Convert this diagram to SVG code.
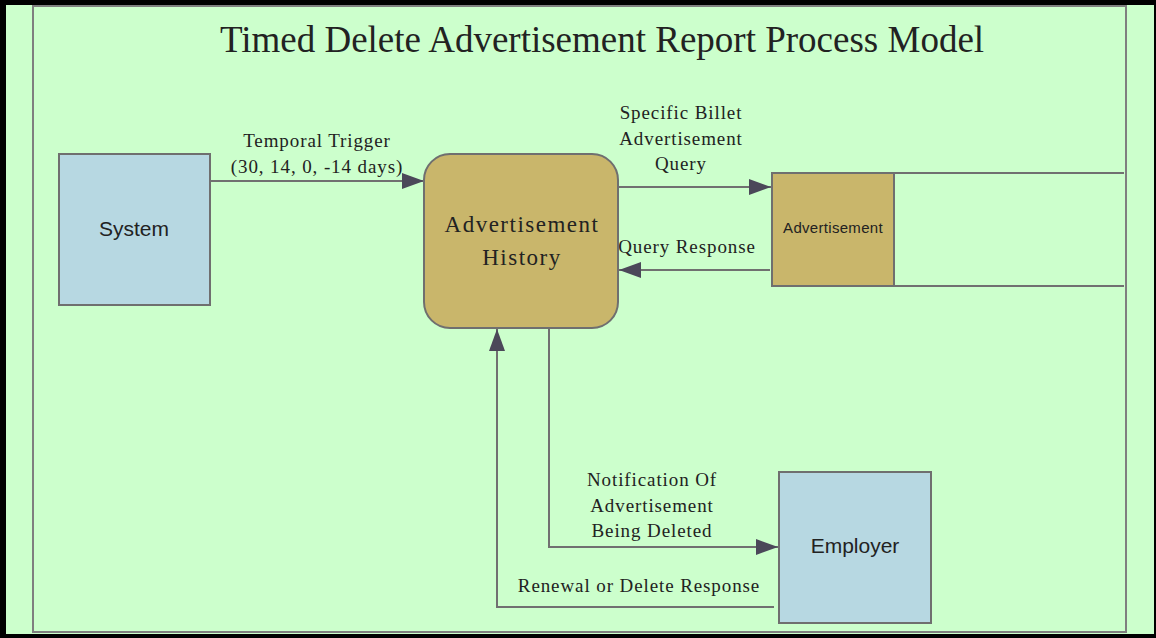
<svg xmlns="http://www.w3.org/2000/svg" width="1156" height="638" viewBox="0 0 1156 638">
<style>
.serif{font-family:"Liberation Serif","Times New Roman",serif;fill:#222;}
.sans{font-family:"Liberation Sans",Arial,sans-serif;fill:#222;}
.lbl{font-size:19px;letter-spacing:0.9px;text-anchor:middle;}
.conn{fill:none;stroke:#707070;stroke-width:2;}
.ent{fill:#B7D8E2;stroke:#6f6f6f;stroke-width:2;}
.tan{fill:#C9B66B;stroke:#6f6f6f;stroke-width:2;}
</style>
<defs>
<marker id="ah" markerUnits="userSpaceOnUse" markerWidth="22" markerHeight="16" refX="22" refY="8" orient="auto">
<path d="M0,0 L22,8 L0,16 z" fill="#4b4859"/>
</marker>
</defs>
<rect x="0" y="0" width="1156" height="638" fill="#000"/>
<rect x="6" y="5" width="1148" height="629" fill="#CCFFCC"/>
<rect x="33" y="6" width="1093" height="626" fill="none" stroke="#7f7f7f" stroke-width="2"/>
<text class="serif" x="602" y="52" font-size="37" text-anchor="middle">Timed Delete Advertisement Report Process Model</text>

<g id="connectors">
<path class="conn" d="M211,181 H424" marker-end="url(#ah)"/>
<path class="conn" d="M618,187 H771" marker-end="url(#ah)"/>
<path class="conn" d="M770,270 H619" marker-end="url(#ah)"/>
<path class="conn" d="M549,328 V547 H778" marker-end="url(#ah)"/>
<path class="conn" d="M774,607 H497 V329" marker-end="url(#ah)"/>
<text class="serif lbl" x="317" y="147">Temporal Trigger</text>
<text class="serif lbl" x="317" y="173">(30, 14, 0, -14 days)</text>
<text class="serif lbl" x="681" y="119">Specific Billet</text>
<text class="serif lbl" x="681" y="145">Advertisement</text>
<text class="serif lbl" x="681" y="170">Query</text>
<text class="serif lbl" x="687" y="253">Query Response</text>
<text class="serif lbl" x="652" y="486">Notification Of</text>
<text class="serif lbl" x="652" y="512">Advertisement</text>
<text class="serif lbl" x="652" y="537">Being Deleted</text>
<text class="serif lbl" x="639" y="592">Renewal or Delete Response</text>
</g>

<g id="system">
<rect class="ent" x="59" y="154" width="151" height="151"/>
<text class="sans" x="134" y="236" font-size="21" text-anchor="middle">System</text>
</g>

<g id="advertisement-history">
<rect class="tan" x="424" y="154" width="194" height="174" rx="26" ry="26"/>
<text class="serif" x="522" y="232" font-size="23" letter-spacing="1.5" text-anchor="middle">Advertisement</text>
<text class="serif" x="522" y="265" font-size="23" letter-spacing="1.5" text-anchor="middle">History</text>
</g>

<g id="advertisement-store">
<rect class="tan" x="772" y="173" width="122" height="113"/>
<path class="conn" d="M894,173 H1124 M894,286 H1124"/>
<text class="sans" x="833" y="233" font-size="15" letter-spacing="0.3" text-anchor="middle">Advertisement</text>
</g>

<g id="employer">
<rect class="ent" x="779" y="472" width="152" height="151"/>
<text class="sans" x="855" y="553" font-size="21" text-anchor="middle">Employer</text>
</g>
</svg>
